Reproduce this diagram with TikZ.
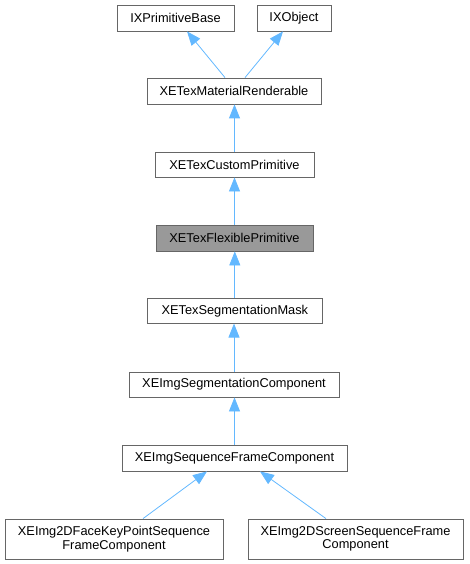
\documentclass[tikz,border=0pt]{standalone}
\usepackage{fontspec}
\setmainfont{Liberation Sans}
\usetikzlibrary{arrows.meta}
\begin{document}
\begin{tikzpicture}[x=1pt,y=-1pt,
  cls/.style={draw=black!60,line width=0.8pt,fill=white,inner sep=0pt,
    minimum height=#1,align=center,font=\fontsize{12.8}{13.5}\selectfont},
  cls/.default=26pt,
  hl/.style={fill=black!40},
  edge/.style={draw={rgb,255:red,99;green,184;blue,255},line width=0.8pt,
    -{Triangle[length=14pt,width=11pt]}}]
\useasboundingbox (0,0) rectangle (469,564);
\node[cls,minimum width=117pt] (base) at (175.5,18) {IXPrimitiveBase};
\node[cls,minimum width=74pt] (obj) at (294,18) {IXObject};
\node[cls,minimum width=174pt] (mat) at (234,91) {XETexMaterialRenderable};
\node[cls=25pt,minimum width=159pt] (cust) at (234.5,164.5) {XETexCustomPrimitive};
\node[cls,hl,minimum width=157pt] (flex) at (234.5,238) {XETexFlexiblePrimitive};
\node[cls=25pt,minimum width=175pt] (mask) at (234.8,310.7) {XETexSegmentationMask};
\node[cls=25pt,minimum width=210pt] (imgseg) at (234,384.5) {XEImgSegmentationComponent};
\node[cls,minimum width=225pt] (seq) at (234.5,458) {XEImgSequenceFrameComponent};
\node[cls=40pt,minimum width=218pt] (face) at (114,539) {XEImg2DFaceKeyPointSequence\\FrameComponent};
\node[cls=40pt,minimum width=215pt] (scr) at (355.5,539) {XEImg2DScreenSequenceFrame\\Component};
\draw[edge] ([xshift=-9pt]mat.north) -- ([xshift=11.5pt]base.south);
\draw[edge] ([xshift=11pt]mat.north) -- ([xshift=-11pt]obj.south);
\draw[edge] (cust.north) -- (cust.north |- mat.south);
\draw[edge] (flex.north) -- (flex.north |- cust.south);
\draw[edge] (mask.north) -- (mask.north |- flex.south);
\draw[edge] (imgseg.north) -- (imgseg.north |- mask.south);
\draw[edge] (seq.north) -- (seq.north |- imgseg.south);
\draw[edge] ([xshift=29pt]face.north) -- ([xshift=-27.5pt]seq.south);
\draw[edge] ([xshift=-29.5pt]scr.north) -- ([xshift=25.5pt]seq.south);
\end{tikzpicture}
\end{document}
